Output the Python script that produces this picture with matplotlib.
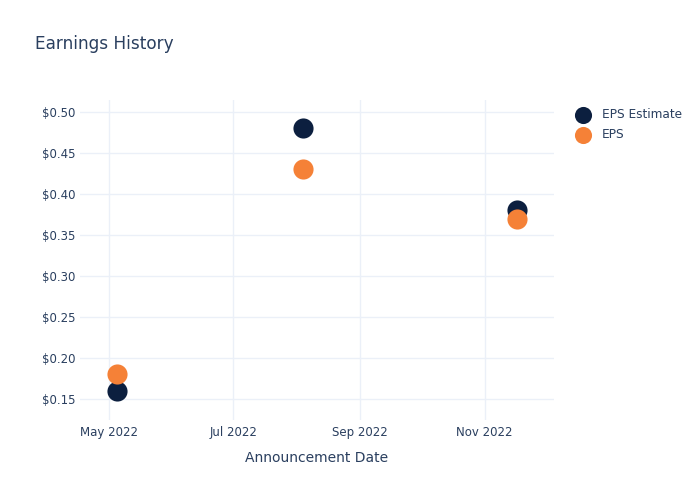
import matplotlib
matplotlib.use('Agg')
import matplotlib.pyplot as plt
import matplotlib.dates as mdates
import numpy as np
import datetime as dt

# data
dates = [dt.date(2022, 5, 5), dt.date(2022, 8, 4), dt.date(2022, 11, 17)]
eps_estimate = [0.16, 0.48, 0.38]
eps_actual = [0.18, 0.43, 0.37]

text_col = '#2a3f5f'
grid_col = '#ebf0f8'
navy = '#0c1f3f'
orange = '#f58137'

fig = plt.figure(figsize=(7, 5), dpi=100)
ax = fig.add_axes([80/700, 1-420/500, 474/700, 320/500])

ax.scatter(dates, eps_estimate, s=210, color=navy, label='EPS Estimate', zorder=3, linewidths=0)
ax.scatter(dates, eps_actual, s=210, color=orange, label='EPS', zorder=4, linewidths=0)

ax.set_xlim(dt.date(2022, 4, 17), dt.date(2022, 12, 5))
ax.set_ylim(0.1244, 0.5146)

ax.xaxis.set_major_locator(mdates.MonthLocator(bymonth=[5, 7, 9, 11]))
ax.xaxis.set_major_formatter(mdates.DateFormatter('%b %Y'))
ax.set_yticks(np.arange(0.15, 0.501, 0.05))
ax.yaxis.set_major_formatter(plt.FuncFormatter(lambda v, p: '${:.2f}'.format(v)))

for s in ax.spines.values():
    s.set_visible(False)
ax.grid(True, color=grid_col, linewidth=1)
ax.set_axisbelow(True)
ax.tick_params(length=0, labelsize=8.5, colors=text_col)
ax.tick_params(axis='y', pad=3)
ax.tick_params(axis='x', pad=4)

ax.set_xlabel('Announcement Date', fontsize=10, color=text_col, labelpad=9)
fig.text(35/700, 1-44/500, 'Earnings History', fontsize=12.2, color=text_col, va='center')

leg = ax.legend(loc='upper left', bbox_to_anchor=(1.025, 0.99), frameon=False,
                fontsize=8.7, labelcolor=text_col, handletextpad=0.6,
                borderaxespad=0, labelspacing=0.55, markerscale=0.85)

fig.savefig('out.png', dpi=100)
